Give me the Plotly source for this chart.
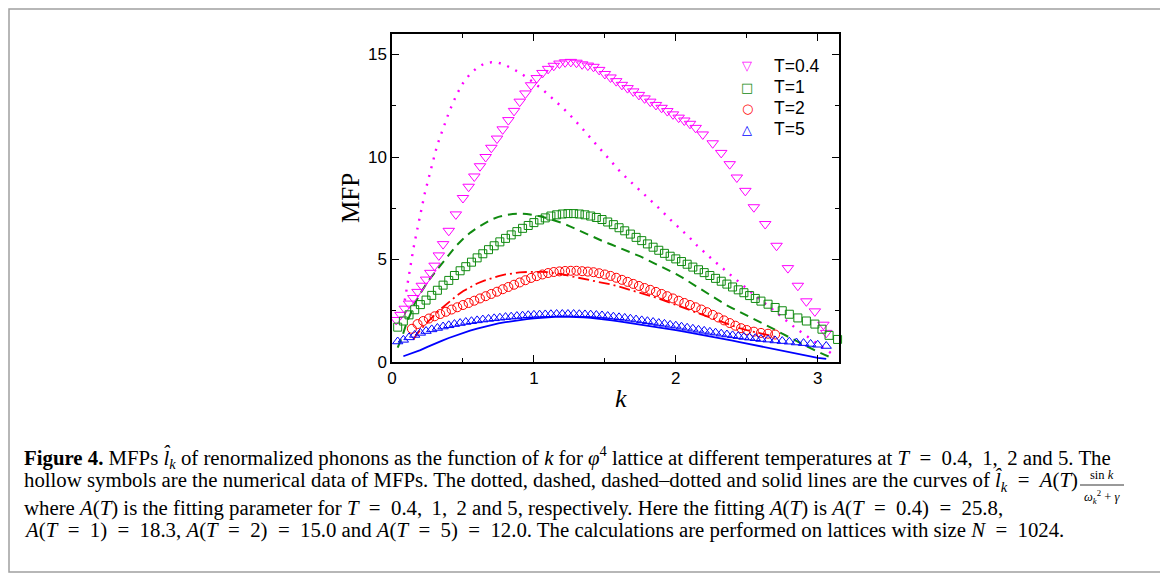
import plotly.graph_objects as go

# hollow symbol data (MFP vs k)
k_t04 = [0.03, 0.06, 0.09, 0.12, 0.15, 0.18, 0.21, 0.24, 0.27, 0.30, 0.33, 0.36, 0.40, 0.45,
         0.50, 0.54, 0.58, 0.62, 0.66, 0.70, 0.74, 0.78, 0.82, 0.86, 0.90, 0.94, 0.98, 1.02,
         1.06, 1.10, 1.14, 1.18, 1.22, 1.26, 1.30, 1.34, 1.38, 1.42, 1.46, 1.50, 1.54, 1.58,
         1.62, 1.66, 1.70, 1.74, 1.78, 1.82, 1.86, 1.90, 1.94, 1.98, 2.02, 2.06, 2.10, 2.14,
         2.19, 2.26, 2.32, 2.38, 2.43, 2.49, 2.55, 2.63, 2.71, 2.79, 2.86, 2.92, 2.98, 3.04, 3.06]
v_t04 = [2.05, 2.30, 2.60, 2.85, 3.12, 3.42, 3.72, 4.02, 4.35, 4.70, 5.20, 5.75, 6.40, 7.20,
         8.00, 8.55, 9.05, 9.55, 10.00, 10.45, 10.90, 11.35, 11.80, 12.25, 12.70, 13.10, 13.50, 13.85,
         14.10, 14.30, 14.45, 14.56, 14.62, 14.64, 14.60, 14.52, 14.46, 14.40, 14.25, 14.05, 13.88, 13.70,
         13.52, 13.36, 13.20, 13.03, 12.86, 12.70, 12.54, 12.40, 12.24, 12.08, 11.92, 11.78, 11.62, 11.42,
         11.10, 10.67, 10.20, 9.65, 9.00, 8.35, 7.55, 6.73, 5.67, 4.58, 3.72, 2.96, 2.47, 1.82, 1.42]

k_t1 = [0.04, 0.08, 0.12, 0.16, 0.20, 0.24, 0.28, 0.32, 0.36, 0.40, 0.44, 0.48, 0.52, 0.56,
        0.60, 0.64, 0.68, 0.72, 0.76, 0.80, 0.84, 0.88, 0.92, 0.96, 1.00, 1.04, 1.08, 1.12,
        1.16, 1.20, 1.24, 1.28, 1.32, 1.36, 1.40, 1.44, 1.48, 1.52, 1.56, 1.60, 1.64, 1.68,
        1.72, 1.76, 1.80, 1.84, 1.88, 1.92, 1.96, 2.00, 2.04, 2.08, 2.12, 2.16, 2.20, 2.24,
        2.28, 2.32, 2.36, 2.40, 2.44, 2.48, 2.52, 2.56, 2.60, 2.65, 2.70, 2.75, 2.80, 2.86,
        2.92, 2.98, 3.03, 3.08, 3.14]
v_t1 = [1.70, 2.00, 2.30, 2.55, 2.80, 3.02, 3.25, 3.50, 3.75, 3.98, 4.22, 4.45, 4.65, 4.87,
        5.08, 5.28, 5.48, 5.67, 5.86, 6.03, 6.20, 6.36, 6.52, 6.66, 6.80, 6.93, 7.03, 7.12,
        7.18, 7.22, 7.24, 7.24, 7.22, 7.18, 7.12, 7.05, 6.95, 6.83, 6.70, 6.55, 6.40, 6.24,
        6.08, 5.92, 5.76, 5.60, 5.45, 5.30, 5.16, 5.03, 4.90, 4.77, 4.63, 4.50, 4.36, 4.22,
        4.08, 3.94, 3.80, 3.66, 3.52, 3.38, 3.24, 3.10, 2.97, 2.82, 2.66, 2.50, 2.33, 2.15,
        2.00, 1.85, 1.60, 1.30, 1.10]

k_t2 = [0.14, 0.18, 0.22, 0.26, 0.30, 0.34, 0.38, 0.42, 0.46, 0.50, 0.54, 0.58, 0.62, 0.66,
        0.70, 0.74, 0.78, 0.82, 0.86, 0.90, 0.94, 0.98, 1.02, 1.06, 1.10, 1.14, 1.18, 1.22,
        1.26, 1.30, 1.34, 1.38, 1.42, 1.46, 1.50, 1.54, 1.58, 1.62, 1.66, 1.70, 1.74, 1.78,
        1.82, 1.86, 1.90, 1.94, 1.98, 2.02, 2.06, 2.10, 2.14, 2.18, 2.22, 2.26, 2.30, 2.34,
        2.38, 2.42, 2.46, 2.50, 2.55, 2.60, 2.65, 2.70]
v_t2 = [1.62, 1.85, 2.00, 2.12, 2.23, 2.34, 2.45, 2.56, 2.67, 2.78, 2.88, 2.99, 3.10, 3.21,
        3.32, 3.43, 3.55, 3.66, 3.77, 3.88, 3.99, 4.10, 4.19, 4.27, 4.34, 4.39, 4.42, 4.44,
        4.45, 4.45, 4.43, 4.41, 4.38, 4.33, 4.27, 4.20, 4.11, 4.01, 3.91, 3.81, 3.71, 3.61,
        3.52, 3.42, 3.32, 3.21, 3.10, 2.99, 2.88, 2.78, 2.67, 2.56, 2.43, 2.30, 2.17, 2.03,
        1.90, 1.77, 1.65, 1.56, 1.48, 1.42, 1.38, 1.34]

k_t5 = [0.04, 0.08, 0.12, 0.16, 0.20, 0.24, 0.28, 0.32, 0.36, 0.40, 0.44, 0.48, 0.52, 0.56,
        0.60, 0.64, 0.68, 0.72, 0.76, 0.80, 0.84, 0.88, 0.92, 0.96, 1.00, 1.04, 1.08, 1.12,
        1.16, 1.20, 1.24, 1.28, 1.32, 1.36, 1.40, 1.44, 1.48, 1.52, 1.56, 1.60, 1.64, 1.68,
        1.72, 1.76, 1.80, 1.84, 1.88, 1.92, 1.96, 2.00, 2.04, 2.08, 2.12, 2.16, 2.20, 2.24,
        2.28, 2.32, 2.36, 2.40, 2.44, 2.48, 2.52, 2.56, 2.60, 2.65, 2.70, 2.75, 2.80, 2.85,
        2.90, 2.95, 3.00, 3.06]
v_t5 = [1.00, 1.08, 1.20, 1.32, 1.42, 1.51, 1.59, 1.66, 1.73, 1.79, 1.85, 1.90, 1.95, 1.99,
        2.03, 2.07, 2.10, 2.13, 2.16, 2.19, 2.21, 2.24, 2.26, 2.28, 2.30, 2.31, 2.32, 2.33,
        2.34, 2.34, 2.34, 2.34, 2.33, 2.32, 2.31, 2.29, 2.27, 2.24, 2.21, 2.18, 2.15, 2.11,
        2.07, 2.03, 1.99, 1.95, 1.90, 1.86, 1.81, 1.77, 1.72, 1.67, 1.62, 1.57, 1.52, 1.47,
        1.43, 1.38, 1.34, 1.30, 1.26, 1.22, 1.19, 1.16, 1.12, 1.09, 1.05, 1.02, 0.99, 0.95,
        0.92, 0.88, 0.84, 0.78]

# fitted curves A(T) sin k / (w_k^2 + gamma)
k_fit04 = [0.09, 0.11, 0.13, 0.15, 0.17, 0.19, 0.21, 0.23, 0.25, 0.27, 0.29, 0.31, 0.33, 0.35,
           0.37, 0.40, 0.43, 0.46, 0.50, 0.55, 0.60, 0.65, 0.70, 0.75, 0.80, 0.85, 0.90, 0.95,
           1.00, 1.05, 1.10, 1.15, 1.20, 1.25, 1.30, 1.35, 1.40, 1.45, 1.50, 1.55, 1.60, 1.65,
           1.70, 1.75, 1.80, 1.85, 1.90, 1.95, 2.00, 2.05, 2.10, 2.15, 2.20, 2.25, 2.30, 2.35,
           2.40, 2.45, 2.50, 2.55, 2.60, 2.65, 2.70, 2.75, 2.80, 2.85, 2.90, 2.95, 3.00, 3.05, 3.10]
v_fit04 = [3.00, 3.90, 4.70, 5.50, 6.20, 6.90, 7.60, 8.20, 8.75, 9.30, 9.85, 10.35, 10.80, 11.20,
           11.60, 12.15, 12.65, 13.10, 13.60, 14.05, 14.35, 14.55, 14.62, 14.60, 14.48, 14.32, 14.12, 13.88,
           13.62, 13.35, 13.05, 12.75, 12.42, 12.08, 11.72, 11.32, 10.92, 10.52, 10.12, 9.75, 9.35, 9.00,
           8.68, 8.35, 8.05, 7.72, 7.38, 7.02, 6.70, 6.38, 6.05, 5.68, 5.35, 5.05, 4.75, 4.45,
           4.15, 3.85, 3.57, 3.28, 3.00, 2.75, 2.48, 2.20, 1.90, 1.62, 1.38, 1.15, 0.90, 0.65, 0.40]

k_fit1 = [0.04, 0.07, 0.10, 0.13, 0.16, 0.20, 0.25, 0.30, 0.35, 0.40, 0.45, 0.50, 0.55, 0.60,
          0.65, 0.70, 0.75, 0.80, 0.85, 0.90, 0.95, 1.00, 1.05, 1.10, 1.15, 1.20, 1.25, 1.30,
          1.35, 1.40, 1.45, 1.50, 1.55, 1.60, 1.65, 1.70, 1.75, 1.80, 1.85, 1.90, 1.95, 2.00,
          2.05, 2.10, 2.15, 2.20, 2.25, 2.30, 2.35, 2.40, 2.45, 2.50, 2.55, 2.60, 2.65, 2.70,
          2.75, 2.80, 2.85, 2.90, 2.95, 3.00, 3.05, 3.10]
v_fit1 = [0.70, 1.20, 1.85, 2.35, 2.85, 3.35, 3.90, 4.35, 4.80, 5.25, 5.65, 6.00, 6.30, 6.55,
          6.75, 6.95, 7.08, 7.17, 7.22, 7.24, 7.22, 7.17, 7.10, 7.00, 6.90, 6.78, 6.63, 6.47,
          6.30, 6.15, 6.00, 5.85, 5.72, 5.58, 5.45, 5.30, 5.15, 4.98, 4.82, 4.65, 4.48, 4.30,
          4.10, 3.88, 3.66, 3.45, 3.22, 3.00, 2.80, 2.62, 2.45, 2.28, 2.10, 1.92, 1.75, 1.57,
          1.38, 1.20, 1.02, 0.85, 0.67, 0.50, 0.35, 0.20]

k_fit2 = [0.15, 0.18, 0.22, 0.26, 0.30, 0.35, 0.40, 0.45, 0.50, 0.55, 0.60, 0.65, 0.70, 0.75,
          0.80, 0.85, 0.90, 0.95, 1.00, 1.05, 1.10, 1.15, 1.20, 1.25, 1.30, 1.35, 1.40, 1.45,
          1.50, 1.55, 1.60, 1.65, 1.70, 1.75, 1.80, 1.85, 1.90, 1.95, 2.00, 2.05, 2.10, 2.15,
          2.20, 2.25, 2.30, 2.35, 2.40, 2.45, 2.50, 2.55, 2.60, 2.65, 2.70]
v_fit2 = [1.10, 1.40, 1.72, 2.02, 2.30, 2.62, 2.92, 3.20, 3.45, 3.66, 3.83, 3.97, 4.09, 4.19,
          4.27, 4.33, 4.37, 4.39, 4.40, 4.40, 4.38, 4.34, 4.28, 4.20, 4.13, 4.06, 4.00, 3.93,
          3.85, 3.77, 3.68, 3.58, 3.48, 3.37, 3.27, 3.16, 3.04, 2.92, 2.79, 2.66, 2.53, 2.40,
          2.27, 2.14, 2.01, 1.88, 1.76, 1.65, 1.55, 1.47, 1.39, 1.31, 1.23]

k_fit5 = [0.08, 0.12, 0.16, 0.20, 0.25, 0.30, 0.35, 0.40, 0.45, 0.50, 0.55, 0.60, 0.65, 0.70,
          0.75, 0.80, 0.85, 0.90, 0.95, 1.00, 1.05, 1.10, 1.15, 1.20, 1.25, 1.30, 1.35, 1.40,
          1.45, 1.50, 1.55, 1.60, 1.65, 1.70, 1.75, 1.80, 1.85, 1.90, 1.95, 2.00, 2.05, 2.10,
          2.15, 2.20, 2.25, 2.30, 2.35, 2.40, 2.45, 2.50, 2.55, 2.60, 2.65, 2.70, 2.75, 2.80,
          2.85, 2.90, 2.95, 3.00, 3.06]
v_fit5 = [0.28, 0.38, 0.47, 0.58, 0.74, 0.90, 1.03, 1.17, 1.30, 1.42, 1.53, 1.63, 1.72, 1.80,
          1.88, 1.94, 2.00, 2.05, 2.09, 2.13, 2.16, 2.18, 2.20, 2.21, 2.21, 2.20, 2.18, 2.15,
          2.12, 2.08, 2.03, 1.98, 1.93, 1.88, 1.83, 1.77, 1.72, 1.66, 1.60, 1.55, 1.49, 1.43,
          1.37, 1.31, 1.25, 1.18, 1.11, 1.04, 0.97, 0.90, 0.82, 0.74, 0.66, 0.59, 0.52, 0.45,
          0.38, 0.31, 0.25, 0.20, 0.15]

x_ticks = [0, 1, 2, 3]
y_ticks = [0, 5, 10, 15]
legend_names = ["T=0.4", "T=1", "T=2", "T=5"]
legend_glyphs = ["▽", "□", "○", "△"]

MAGENTA = "#ff00ff"
GREEN = "#108a10"
RED = "#ff0000"
BLUE = "#0000ff"
colors = [MAGENTA, GREEN, RED, BLUE]

# page has an 8px body margin, so the figure is 8px smaller than the window
OFF = 8
W, H = 1168 - OFF, 575 - OFF
# plot area in page pixels
L, R, T, B = 392, 839, 34, 362


def px(x, y):
    # page pixel -> paper coords
    return (x - L) / (R - L), (B - y) / (B - T)


fig = go.Figure()

# fit curves first, symbols on top
fits = [(k_fit04, v_fit04, MAGENTA, "2px,7px", 2.4),
        (k_fit1, v_fit1, GREEN, "9px,6px", 2),
        (k_fit2, v_fit2, RED, "11px,4px,2px,4px", 1.8),
        (k_fit5, v_fit5, BLUE, "solid", 1.8)]
for kk, vv, col, dash, w in fits:
    fig.add_trace(go.Scatter(x=kk, y=vv, mode="lines", showlegend=False,
                             line=dict(color=col, width=w, dash=dash)))

series = [(k_t04, v_t04, "triangle-down-open", 10),
          (k_t1, v_t1, "square-open", 8),
          (k_t2, v_t2, "circle-open", 9),
          (k_t5, v_t5, "triangle-up-open", 9)]
for (kk, vv, sym, size), col, name in zip(series, colors, legend_names):
    fig.add_trace(go.Scatter(x=kk, y=vv, mode="markers", name=name, cliponaxis=False,
                             showlegend=False,
                             marker=dict(symbol=sym, size=size, color=col,
                                         line=dict(color=col, width=1))))

axis_common = dict(showline=True, linecolor="black", linewidth=1.5, mirror="ticks",
                   ticks="inside", ticklen=7, tickwidth=1.3, tickcolor="black",
                   showgrid=False, zeroline=False,
                   tickfont=dict(family="Liberation Sans, Arial", size=17, color="black"))

fig.update_xaxes(range=[0, 3.15], tickvals=x_ticks,
                 minor=dict(ticks="inside", ticklen=4, dtick=0.5, tickcolor="black", tickwidth=1.2),
                 **axis_common)
fig.update_yaxes(range=[0, 16], tickvals=y_ticks,
                 minor=dict(ticks="inside", ticklen=4, dtick=2.5, tickcolor="black", tickwidth=1.2),
                 **axis_common)

fig.update_layout(
    width=W, height=H,
    margin=dict(l=L - OFF, r=W - (R - OFF), t=T - OFF, b=H - (B - OFF)),
    paper_bgcolor="white", plot_bgcolor="white",
    showlegend=False,
)

sans = "Liberation Sans, Arial"
serif = "Liberation Serif, Times New Roman, serif"


def note(x, y, text, size, family=serif, color="black", xanchor="center", yanchor="middle", **kw):
    nx, ny = px(x, y)
    fig.add_annotation(x=nx, y=ny, xref="paper", yref="paper", text=text, showarrow=False,
                       xanchor=xanchor, yanchor=yanchor,
                       font=dict(family=family, size=size, color=color), **kw)


# legend, drawn by hand to keep the tight row spacing
for i, (name, glyph, col) in enumerate(zip(legend_names, legend_glyphs, colors)):
    yy = 66 + 21 * i
    note(747, yy, glyph, 13, family="DejaVu Sans", color=col)
    note(772, yy, name, 17.5, family=sans, xanchor="left")

# axis titles
note(350, 198, "MFP", 25, textangle=-90)
note(621, 398, "<i>k</i>", 26)

# caption
EQ = "\u2002=\u2002"
LIST = "0.4,\u2009 1,\u2009 2 and 5"
caption = [
    (457, "<b>Figure 4.</b> MFPs <i>l̂</i><sub><i>k</i></sub> of renormalized phonons as the function of <i>k</i> "
          "for <i>φ</i><sup>4</sup> lattice at different temperatures at <i>T</i>" + EQ + LIST + ". The"),
    (481, "hollow symbols are the numerical data of MFPs. The dotted, dashed, dashed–dotted and solid lines "
          "are the curves of <i>l̂</i><sub><i>k</i></sub>" + EQ + "<i>A</i>(<i>T</i>)"),
    (508, "where <i>A</i>(<i>T</i>) is the fitting parameter for <i>T</i>" + EQ + LIST + ", respectively. "
          "Here the fitting <i>A</i>(<i>T</i>) is <i>A</i>(<i>T</i>" + EQ + "0.4)" + EQ + "25.8,"),
    (530, "<i>A</i>(<i>T</i>" + EQ + "1)" + EQ + "18.3, <i>A</i>(<i>T</i>" + EQ + "2)" + EQ + "15.0 and "
          "<i>A</i>(<i>T</i>" + EQ + "5)" + EQ + "12.0. "
          "The calculations are performed on lattices with size <i>N</i>" + EQ + "1024."),
]
for yy, txt in caption:
    note(22, yy, txt, 20.8, xanchor="left")

# small fraction sin k / (w_k^2 + gamma) after "A(T)"
FX0, FX1, FY = 1080, 1124, 485
note((FX0 + FX1) / 2, FY - 1, "sin <i>k</i>", 12.5, yanchor="bottom")
note((FX0 + FX1) / 2, FY + 1, "<i>ω</i><sub><i>k</i></sub><sup>2</sup> + <i>γ</i>", 12.5, yanchor="top")
x0, y0 = px(FX0, FY)
x1, _ = px(FX1, FY)
fig.add_shape(type="line", xref="paper", yref="paper", x0=x0, x1=x1, y0=y0, y1=y0,
              line=dict(color="black", width=0.8))

# outer frame
x0, y0 = px(OFF + 1, OFF + 1)
x1, y1 = px(1164, 572)
fig.add_shape(type="rect", xref="paper", yref="paper", x0=x0, y0=y0, x1=x1, y1=y1,
              line=dict(color="#a0a0a0", width=1.5))

fig.write_html("out.html")
